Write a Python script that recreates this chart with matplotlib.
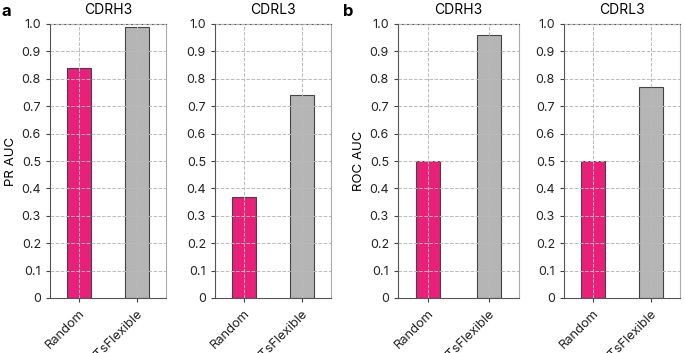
import matplotlib.pyplot as plt
from matplotlib.ticker import FuncFormatter

plt.rcParams['font.family'] = ['Inter', 'DejaVu Sans']

# Data
methods = ['Random', 'ITsFlexible']
loops = ['CDRH3', 'CDRL3']
pr_auc = {'CDRH3': [0.84, 0.99], 'CDRL3': [0.37, 0.74]}
roc_auc = {'CDRH3': [0.50, 0.96], 'CDRL3': [0.50, 0.77]}
colors = ['#E8207A', '#B5B5B5']

fig = plt.figure(figsize=(6.85, 3.53), dpi=100)

# axes positions in pixels (left, right)
W, H = 685, 353
xs = [(50, 166), (215, 331), (398, 519), (564, 680)]
top, bottom = 24, 298

panels = [('PR AUC', pr_auc, 'CDRH3'), ('PR AUC', pr_auc, 'CDRL3'),
          ('ROC AUC', roc_auc, 'CDRH3'), ('ROC AUC', roc_auc, 'CDRL3')]

fmt = FuncFormatter(lambda v, p: '0' if abs(v) < 1e-9 else f'{v:.1f}')

for i, ((l, r), (metric, data, loop)) in enumerate(zip(xs, panels)):
    ax = fig.add_axes([l / W, 1 - bottom / H, (r - l) / W, (bottom - top) / H])
    ax.bar(range(len(methods)), data[loop], width=0.4, color=colors,
           edgecolor='#444444', linewidth=0.8, zorder=2)
    ax.set_xlim(-0.5, 1.5)
    ax.set_ylim(0, 1.0)
    ax.set_yticks([i / 10 for i in range(11)])
    ax.yaxis.set_major_formatter(fmt)
    ax.set_xticks(range(len(methods)))
    ax.set_xticklabels(methods, rotation=45, ha='right', rotation_mode='anchor')
    ax.tick_params(labelsize=9, color='#444444', length=3, width=0.8,
                   labelcolor='#222222')
    ax.tick_params(axis='x', labelsize=9.3, pad=4)
    ax.grid(True, linestyle='--', color='#BBBBBB', linewidth=0.7, zorder=3)
    ax.set_axisbelow(False)
    for s in ax.spines.values():
        s.set_color('#555555')
        s.set_linewidth(0.8)
    ax.spines['right'].set_color('#AAAAAA')
    ax.set_title(loop, fontsize=10, pad=7)
    if i % 2 == 0:
        ax.set_ylabel(metric, fontsize=9.5, labelpad=3)

fig.text(2 / W, 1 - 12 / H, 'a', fontsize=12, fontweight='bold', va='center')
fig.text(343 / W, 1 - 12 / H, 'b', fontsize=12, fontweight='bold', va='center')

fig.savefig('out.png', dpi=100)
